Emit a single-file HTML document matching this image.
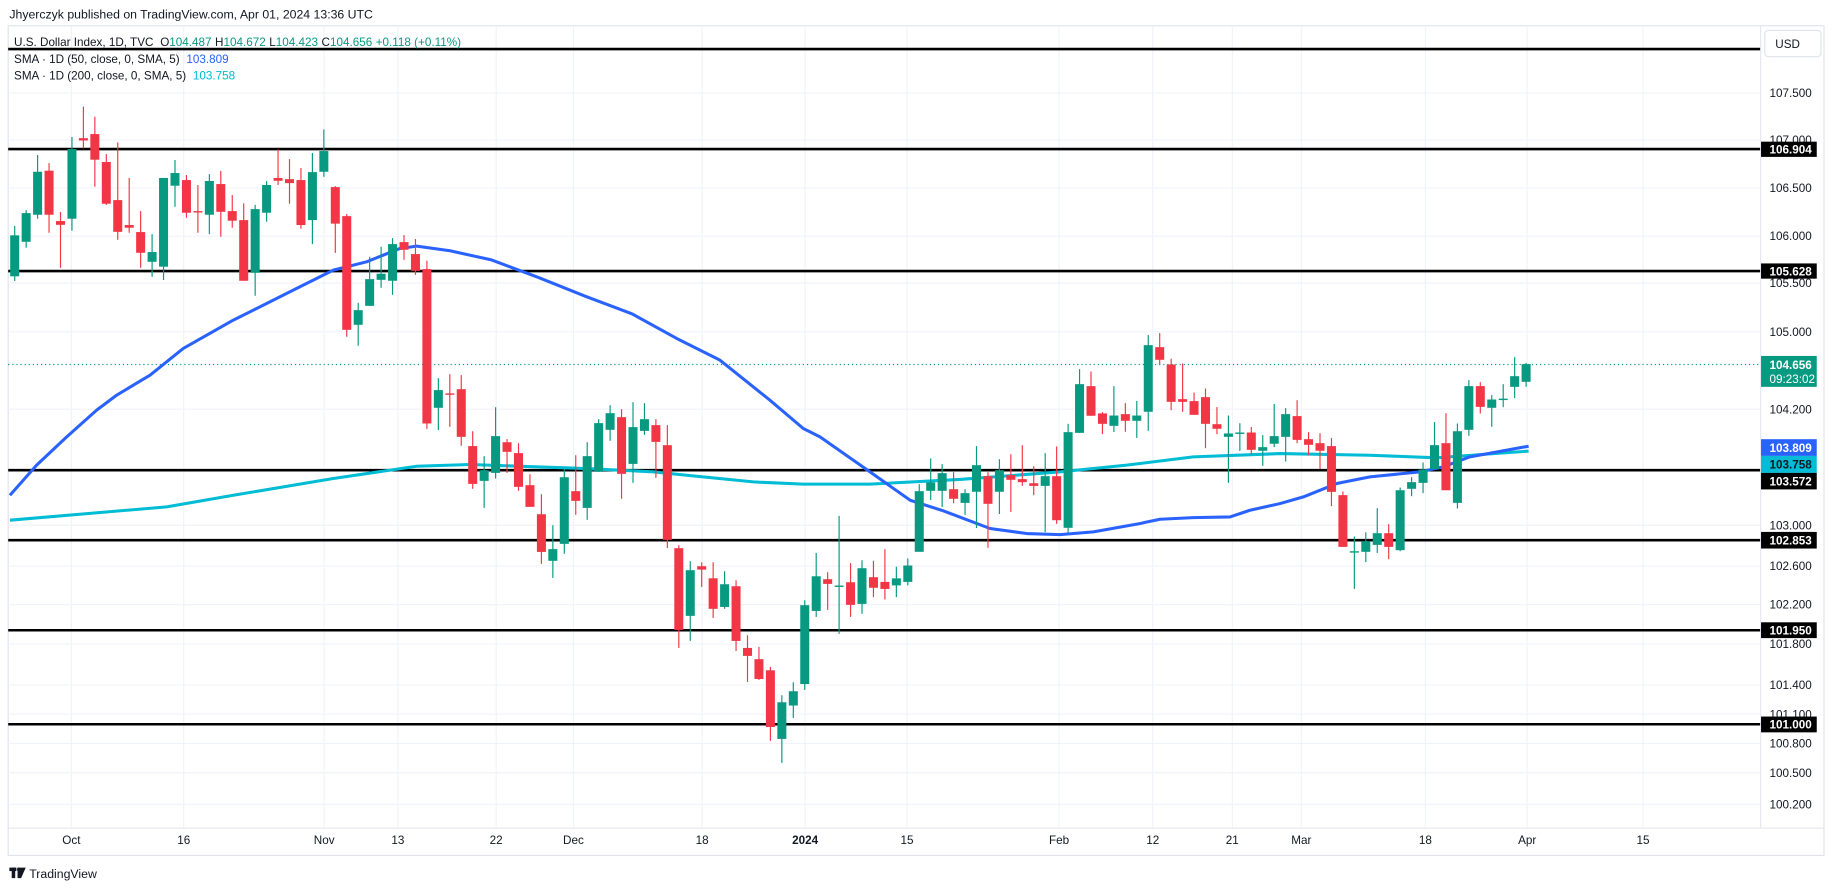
<!DOCTYPE html>
<html><head><meta charset="utf-8">
<style>
html,body{margin:0;padding:0;background:#fff;width:1835px;height:891px;overflow:hidden}
svg{display:block;font-family:"Liberation Sans",sans-serif}
</style></head>
<body>
<svg id="s" width="1835" height="891" viewBox="0 0 1568 761" preserveAspectRatio="none" xmlns="http://www.w3.org/2000/svg">
<rect x="0" y="0" width="1568" height="761" fill="#fff"/>
<text x="8" y="16" font-size="10.5" fill="#131722">Jhyerczyk published on TradingView.com, Apr 01, 2024 13:36 UTC</text>
<rect x="7" y="22" width="1551.6" height="708.6" fill="none" stroke="#e0e3eb" stroke-width="1"/>
<line x1="1504.5" y1="22" x2="1504.5" y2="707" stroke="#e0e3eb" stroke-width="0.8"/>
<line x1="7" y1="707.3" x2="1558.6" y2="707.3" stroke="#e0e3eb" stroke-width="0.8"/>
<g id="grid" stroke="#f0f3fa" stroke-width="1"></g>
<g id="lvl" stroke="#000" stroke-width="2.2"></g>
<line x1="7" y1="311.3" x2="1504" y2="311.3" stroke="#089981" stroke-width="1" stroke-dasharray="1,2.5"/>
<polyline fill="none" stroke="#00bcd4" stroke-width="2.6" stroke-linejoin="round" points="8.5,444.3 142.4,432.9 199.4,423 284.8,408.7 356,398.2 401.6,396.7 444.3,398.2 501.3,400.2 558.3,403 586.7,405.9 643.7,411.6 686.4,413.5 743.4,413.5 820.3,409.5 905.8,403 962.7,397.3 1019.7,390.2 1093.8,387.4 1170.6,388.8 1227.6,391 1306.2,385.3"/>
<polyline fill="none" stroke="#2962ff" stroke-width="2.6" stroke-linejoin="round" points="8.5,423 31.3,397.3 57,373.1 82.6,350.3 99.7,337.5 128.2,320.4 156.6,297.6 199.4,273.4 227.8,259.2 256.3,244.9 284.8,230.7 313.3,223.6 341.8,212.2 356,210.2 384.5,214.2 420,222 460,237 500,253 540,268 580,290 615.2,307.6 657.9,341.8 686.4,366 700.7,373.1 743.4,403 777.6,427.2 806,436.3 846,451.4 877.3,455.7 905.8,456.6 934.3,454.3 971.3,447.7 991.2,443.5 1019.7,442.1 1051,441.5 1068.1,435.8 1093.8,430.1 1113.7,424.4 1142.2,413 1170.6,407.3 1213.4,403 1233.3,398.7 1256,390.2 1306.2,381.1"/>
<g id="candles"></g>
<g font-size="10" fill="#131722">
<text x="12" y="39.5">U.S. Dollar Index, 1D, TVC <tspan dx="3">O</tspan><tspan fill="#089981">104.487</tspan><tspan dx="3">H</tspan><tspan fill="#089981">104.672</tspan><tspan dx="3">L</tspan><tspan fill="#089981">104.423</tspan><tspan dx="3">C</tspan><tspan fill="#089981">104.656</tspan><tspan dx="3" fill="#089981">+0.118 (+0.11%)</tspan></text>
<text x="12" y="54">SMA · 1D (50, close, 0, SMA, 5) <tspan dx="3" fill="#2962ff">103.809</tspan></text>
<text x="12" y="68">SMA · 1D (200, close, 0, SMA, 5) <tspan dx="3" fill="#00bcd4">103.758</tspan></text>
</g>
<g id="ylab" font-size="10" fill="#131722"></g>
<rect x="1508" y="26" width="48" height="22.4" rx="3" fill="#fff" stroke="#e0e3eb"/>
<text x="1517" y="41" font-size="10" fill="#131722">USD</text>
<g id="tags" font-size="10" font-weight="bold"></g>
<g id="xlab" font-size="10" fill="#131722" text-anchor="middle">
<text x="61" y="721">Oct</text><text x="157" y="721">16</text><text x="277" y="721">Nov</text><text x="340" y="721">13</text><text x="424" y="721">22</text><text x="490" y="721">Dec</text><text x="600" y="721">18</text><text x="688" y="721" font-weight="bold">2024</text><text x="775" y="721">15</text><text x="905" y="721">Feb</text><text x="985" y="721">12</text><text x="1053" y="721">21</text><text x="1112" y="721">Mar</text><text x="1218" y="721">18</text><text x="1305" y="721">Apr</text><text x="1404" y="721">15</text>
</g>
<g fill="#131722"><rect x="8" y="741" width="6" height="3"/><rect x="10" y="741" width="3" height="9"/><polygon points="15,741 22,741 18,750 15,750"/><circle cx="16" cy="742.5" r="1.5"/></g>
<text x="25" y="750" font-size="10.5" fill="#131722">TradingView</text>
</svg>
<script>
var NS="http://www.w3.org/2000/svg";
function el(t,a,p,txt){var e=document.createElementNS(NS,t);for(var k in a)e.setAttribute(k,a[k]);if(txt!=null)e.textContent=txt;p.appendChild(e);return e;}
var g=document.getElementById('grid');
[61,157,277,340,424,490,600,688,775,905,985,1053,1112,1218,1305,1404].forEach(function(x){el('line',{x1:x,y1:22,x2:x,y2:707},g);});
var yl=[["107.500",79.5],["107.000",119.6],["106.500",160.6],["106.000",201.7],["105.500",241.8],["105.000",283.4],["104.200",349.5],["103.000",448.6],["102.600",483.4],["102.200",516.4],["101.800",550],["101.400",585],["101.100",610],["100.800",635],["100.500",660],["100.200",687]];
var ylg=document.getElementById('ylab');
yl.forEach(function(d){el('line',{x1:7,y1:d[1],x2:1504,y2:d[1]},g);el('text',{x:1512,y:d[1]+3.5},ylg,d[0]);});
var lv=document.getElementById('lvl');
[41.9,127.3,231.5,401.6,461.4,538.3,618.6].forEach(function(y){el('line',{x1:7,y1:y,x2:1504,y2:y},lv);});
var tg=document.getElementById('tags');
function tag(y1,y2,bg,fg,txt,txt2){el('rect',{x:1504.8,y:y1,width:47.6,height:y2-y1,fill:bg},tg);if(txt2){el('text',{x:1512,y:y1+11,fill:fg},tg,txt);el('text',{x:1512,y:y1+23,fill:fg,'font-weight':'normal'},tg,txt2);}else el('text',{x:1512,y:(y1+y2)/2+3.6,fill:fg},tg,txt);}
tag(121,134,"#000","#fff","106.904");
tag(225,238,"#000","#fff","105.628");
tag(304,330.4,"#089981","#fff","104.656","09:23:02");
tag(375.1,389.4,"#2962ff","#fff","103.809");
tag(389.4,403.9,"#00bcd4","#131722","103.758");
tag(403.9,418,"#000","#fff","103.572");
tag(454.3,468.5,"#000","#fff","102.853");
tag(531.5,545,"#000","#fff","101.950");
tag(612,625.5,"#000","#fff","101.000");
var D=[
[236,201,193,240],[206.5,182,179.4,211.6],[183.4,146.7,132.4,186.8],[145.8,183.4,139.3,198.8],[188.8,192,181,228.7],[186.8,127.3,117,197],[118,120,91,126.7],[114.5,136.4,99.7,159.5],[138.4,174,131.6,175],[170.9,198,121.6,204.8],
[192.2,194.5,152,198.8],[198.2,215.9,180.3,228.7],[223.6,215.3,200,236.4],[227.8,152,152,239.2],[158.6,147.8,136.7,176.6],[153.8,181.7,149.5,186],[180.3,181,158,198.8],[183.4,154.6,148.7,200],[157.2,180.9,146,202.2],[180.3,188.5,166.6,194.5],
[188,239.8,173.7,239.8],[233,178.6,175,252.6],[181.7,158,154.7,189.4],[152,154.4,127.6,158],[153,156.4,135.9,174],[153.8,192.2,143.5,195.4],[188,147,130.7,208.5],[146.7,129,110.5,151],[159.8,191,159,216],[184.6,281.7,182.8,287.6],
[277.4,264.9,258.6,295.3],[261.2,238.4,219.3,261.2],[239,233.8,210.8,245.8],[239.8,208.5,203.4,251.8],[206.8,213.3,200.8,221.9],[217,231.3,204.2,234.7],[229.8,361.7,222.7,366.3],[348.3,333.2,323,367.4],[336,337,319.6,364.6],[332.4,373.1,320.4,380.8],
[381,413.3,368.3,417.5],[410.7,401.6,389.6,433.8],[403.9,372.5,347.8,408.7],[377.7,385.9,375.1,403.9],[387,415.8,378.5,419.2],[414.4,432.9,405,432.9],[439.2,471.4,422.1,481.6],[479,469,448.6,493.6],[464.5,407.6,400.4,473],[419.5,427.8,388.8,439.7],
[433.8,389.6,377.7,444],[403,361.4,358,403],[367.1,352.9,346,376.5],[356.3,404.7,349.5,426],[396.2,364.8,343.5,412.4],[368,358,344.3,371.4],[363.1,377.4,358,408.1],[380.2,461.1,363.1,468],[468.2,538,465.7,553.4],[526,487,479.3,547.4],
[483.6,486.5,480.2,501.3],[493.9,520,480.2,527.8],[518.4,499,487.9,520],[500.7,547.4,495.6,556],[553.4,560.2,542.6,582.4],[563,579.9,552.5,580.7],[572.5,620.9,569.6,632.8],[631.1,599.8,593.8,651.6],[602.6,590.4,582.7,613.2],[584.2,516.9,512.7,589.3],
[521.8,492.2,472.2,526.9],[494.7,498.7,488.7,520.9],[501.2,500.1,440.6,541.4],[497.3,516.6,481,526.9],[515.8,485.3,478.5,524.3],[493,502,479,510],[497,503,469,512],[500,494,484,510],[497,483,477,500],[471.3,419.5,413.5,471],
[419.2,412.1,391.5,427],[419.2,404.1,396.4,433],[417.8,426,403.3,429.8],[429.5,421.2,417.8,439.8],[420,397.3,381,451],[406.7,430.3,403.3,467.9],[420,401.6,392.2,439],[405.8,409.8,387.9,437.2],[409.2,411.8,380.2,415],[412.7,415,398.2,422.9],
[415,406.7,387,454.5],[406.7,444.3,381.3,447.4],[450.8,369.1,362,455],[369.7,328.1,315.3,369.7],[329.8,355.1,317.3,355.1],[353.1,362,352,370.8],[363.7,354.9,329.8,369],[353.7,359.4,344.3,368.8],[359.4,354.9,342.4,374],[351.7,294.8,286.2,368],
[296.5,307.3,284.5,310.9],[311.3,343.2,306.4,350.3],[340.9,343.2,310.4,351.7],[342.6,354.3,335.3,354.3],[339.2,362,331.8,382.8],[362.3,366.2,347.7,370.8],[373.1,370.2,354.9,412.4],[370.5,369.4,361.5,385.1],[369.4,384.2,364.7,388],[385,381.9,371.7,397.8],
[379,372.5,345,381.9],[373.1,353.7,348.6,394.2],[355.4,375.7,341.8,378.5],[375.1,379.9,369.1,388.8],[378.5,385,370,400.5],[381,420.1,374.2,432.3],[422.9,467.1,419.8,467.1],[471.3,470.8,458.2,503],[471.3,462.2,454.6,480.1],[465.4,455.4,434,472.2],
[455.4,467.1,447.7,477.6],[469.9,418.7,416.4,470.8],[417.5,411.8,407.6,423.8],[412.4,401,395,421.2],[400.7,380.2,360.5,400.7],[378.5,418.7,352.9,418.7],[429.5,368.3,361.7,434.3],[367.1,329.8,324.7,372.2],[329.8,347.5,326.4,353.2],[348.3,341.2,337.5,364.6],
[341,340.5,328.1,347.8],[330.4,321.3,305,340],[326.1,311,309.9,330.4]];
var cg=document.getElementById('candles');
D.forEach(function(d,i){var x=12.56+9.784*i;var up=d[1]<=d[0];var col=up?"#089981":"#f23645";
var t=Math.min(d[0],d[1]),b=Math.max(d[0],d[1]);if(b-t<1.2){b=t+1.2;}
el('line',{x1:x,y1:d[2],x2:x,y2:d[3],stroke:col,'stroke-width':1},cg);
el('rect',{x:x-3.85,y:t,width:7.7,height:b-t,fill:col},cg);});
</script>
</body></html>
